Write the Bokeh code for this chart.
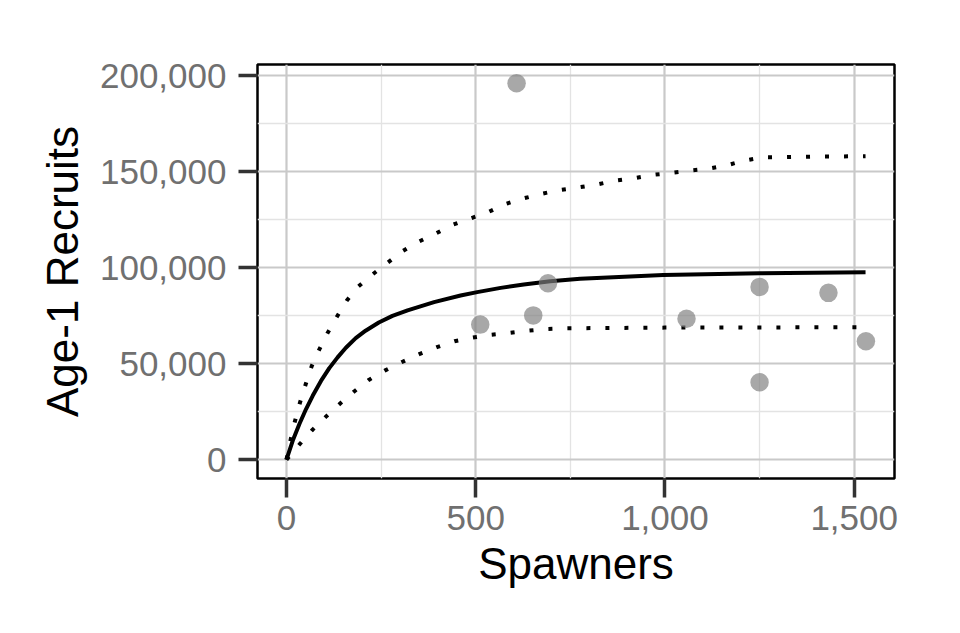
from bokeh.plotting import figure
from bokeh.models import Range1d, FixedTicker, NumeralTickFormatter, ColumnDataSource
from bokeh.embed import file_html
from bokeh.resources import INLINE

# Observed spawner / recruit pairs
spawners = [512, 608, 652, 691, 1057, 1250, 1250, 1432, 1531]
recruits = [70360, 196070, 75170, 91930, 73460, 90010, 40350, 86910, 61720]

# Fitted stock-recruit curve
fit_s = [0, 16.7, 34.2, 51.8, 69.3, 91.2, 113.2, 135.1, 157, 183, 209, 244, 280, 320, 390,
         460, 504, 566, 627, 697, 776, 995.6, 1250, 1530]
fit_r = [0, 9990, 18620, 26380, 33260, 41030, 47700, 53300, 58300, 63300, 67200, 71500,
         74900, 77800, 82100, 85500, 87300, 89500, 91300, 93000, 94300, 96220, 97080, 97600]

# Upper confidence bound
upper_s = [0, 11.4, 22.8, 35.9, 50.9, 66.7, 86.8, 108.8, 133.3, 159.6, 189.5, 228.9,
           268.4, 307, 350, 395.6, 439.5, 487.7, 531.6, 575.4, 623.7, 671.9, 720, 767,
           818.4, 868.4, 916.7, 964.9, 1013, 1064, 1114, 1162, 1211, 1259, 1309, 1358,
           1408, 1459, 1530]
upper_r = [0, 10860, 20330, 29850, 39320, 48780, 57420, 66060, 74500, 82950, 90190, 96740,
           102790, 108640, 113630, 117950, 122430, 125800, 128810, 133000, 136000, 138400,
           140400, 141700, 143300, 145370, 146570, 148300, 149340, 150540, 151570, 153290,
           155870, 157600, 157600, 157790, 157960, 157960, 158130]

# Lower confidence bound
lower_s = [0, 35.9, 69.3, 104.4, 141.2, 178.9, 217.5, 259.6, 305.3, 350.9, 397.4, 443.9,
           492.1, 540.4, 590.4, 640.4, 689.5, 740.4, 1000, 1250, 1530]
lower_r = [0, 8280, 15690, 22420, 29150, 35530, 41560, 46390, 50870, 55010, 58630, 61730,
           63600, 65100, 66050, 67250, 68120, 68470, 68800, 68900, 69000]

x_ticks = [0, 500, 1000, 1500]
x_minor = [250, 750, 1250]
y_ticks = [0, 50000, 100000, 150000, 200000]
y_minor = [25000, 75000, 125000, 175000]

FONT = "Liberation Sans"

p = figure(frame_width=637, frame_height=414,
           min_border_left=257, min_border_right=66, min_border_top=64, min_border_bottom=155,
           x_range=Range1d(-76.5, 1606.5), y_range=Range1d(-9800, 205870),
           output_backend="svg", toolbar_location=None,
           x_axis_label="Spawners", y_axis_label="Age-1 Recruits")

p.background_fill_color = "white"
p.border_fill_color = "white"
p.outline_line_color = "black"
p.outline_line_width = 2.5
p.outline_line_alpha = 1.0

p.xaxis.ticker = FixedTicker(ticks=x_ticks, minor_ticks=x_minor)
p.yaxis.ticker = FixedTicker(ticks=y_ticks, minor_ticks=y_minor)
p.xaxis.formatter = NumeralTickFormatter(format="0,0")
p.yaxis.formatter = NumeralTickFormatter(format="0,0")

for ax in (p.xaxis, p.yaxis):
    ax.axis_line_color = None
    ax.major_tick_line_color = "#333333"
    ax.major_tick_line_width = 3.5
    ax.major_tick_out = 19
    ax.major_tick_in = 0
    ax.minor_tick_line_color = None
    ax.major_label_text_font = FONT
    ax.major_label_text_font_size = "35px"
    ax.major_label_text_color = "#707070"
    ax.axis_label_text_font = FONT
    ax.axis_label_text_font_size = "44px"
    ax.axis_label_text_font_style = "normal"
    ax.axis_label_text_color = "black"

p.xaxis.major_label_standoff = 8
p.yaxis.major_label_standoff = 12
p.xaxis.axis_label_standoff = 6
p.yaxis.axis_label_standoff = 10

for g in (p.xgrid, p.ygrid):
    g.grid_line_color = "#c9c9c9"
    g.grid_line_width = 2.2
    g.minor_grid_line_color = "#e3e3e3"
    g.minor_grid_line_width = 1.3

p.line(upper_s, upper_r, line_color="black", line_width=4, line_dash="4 15", line_cap="butt")
p.line(lower_s, lower_r, line_color="black", line_width=4, line_dash="4 15", line_cap="butt")
p.line(fit_s, fit_r, line_color="black", line_width=4, line_join="round")

src = ColumnDataSource(dict(x=spawners, y=recruits))
p.scatter("x", "y", source=src, size=18.5, fill_color="#7f7f7f", fill_alpha=0.68, line_color=None)

open("out.html", "w").write(file_html(p, INLINE))
